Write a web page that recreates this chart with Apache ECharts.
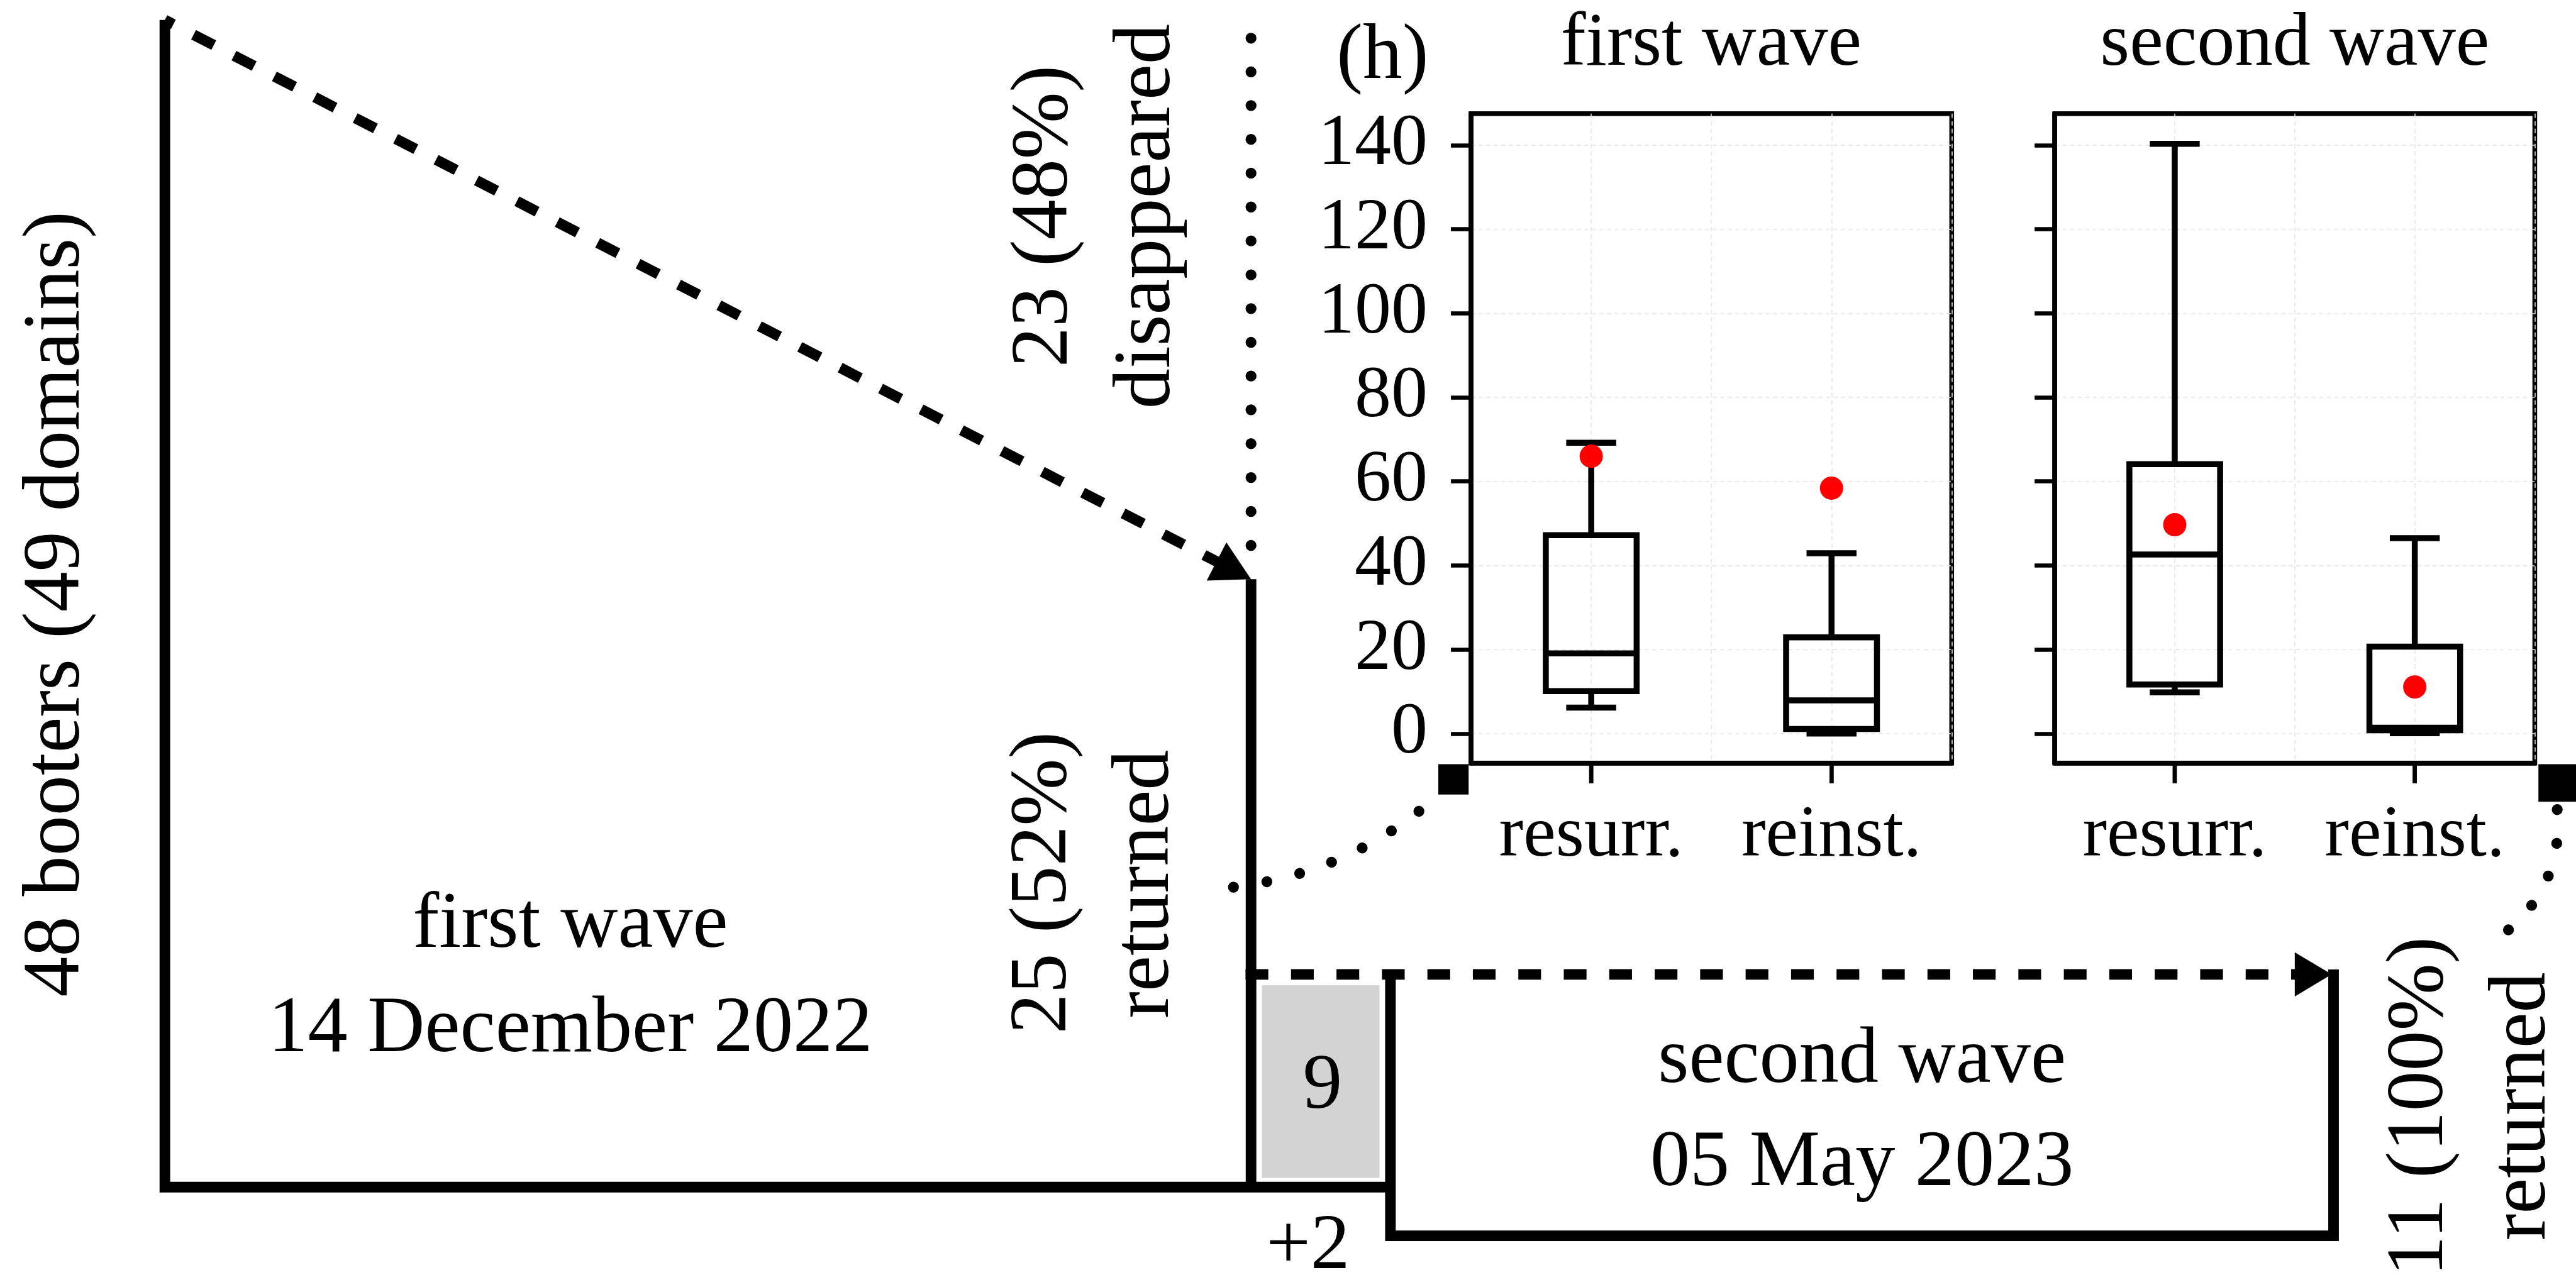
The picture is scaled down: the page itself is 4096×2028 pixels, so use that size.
<!DOCTYPE html>
<html><head><meta charset="utf-8">
<script src="https://cdn.jsdelivr.net/npm/echarts@6/dist/echarts.min.js"></script>
<style>html,body{margin:0;padding:0;background:#fff}#c{width:4096px;height:2028px}</style>
</head><body><div id="c"></div>
<script>
// ---------- data ----------
const boxCategories = ['resurr.', 'reinst.'];
const yTickValues = [0, 20, 40, 60, 80, 100, 120, 140];
// [min, Q1, median, Q3, max] (hours)
const firstWaveResurr  = [6.2, 10.1, 19.1, 47.2, 69.2];
const firstWaveReinst  = [0.0, 1.1, 7.9, 22.9, 42.9];
const secondWaveResurr = [9.8, 11.7, 42.6, 64.1, 140.3];
const secondWaveReinst = [0.1, 0.8, 1.4, 20.7, 46.5];
const firstWaveMeans  = [66.0, 58.4];
const secondWaveMeans = [49.7, 11.1];
// flow counts
const totalBooters = 48;
const totalDomains = 49;
const disappearedFirst = 23;
const returnedFirst = 25;
const returnedBoth = 9;
const addedSecond = 2;
const returnedSecond = 11;

// ---------- layout (reference pixels, scaled) ----------
const S = 4096 / 4250;
const FF = "'Liberation Serif','Times New Roman',serif";
const MID = 0.30;
const Y_MIN = -7.03, Y_MAX = 147.5;
const UNIT = 40.125, BASE_Y = 1959;             // flow diagram: px per booter, y of count 0
const cy = px => (BASE_Y - px) / UNIT;          // reference px -> count axis
const X0 = 272, X1 = 2064, X2 = 2294, X3 = 3850;
const WAVE2_TOP = 8.75;
const BOX_HW = 0.189, CAP_HW = 0.104, LW_BOX = 9.5;
const FLOW_LW = 17.5 * S;

function pct(a, b) { return Math.round(a / b * 100) + '%'; }

function boxRender(params, api) {
  const x = api.value(0);
  const mn = api.value(1), q1 = api.value(2), md = api.value(3), q3 = api.value(4), mx = api.value(5);
  const P = (dx, v) => api.coord([x + dx, v]);
  const st = { stroke: '#000', lineWidth: LW_BOX, fill: 'none', lineJoin: 'miter' };
  const ln = (a, b) => ({ type: 'line', shape: { x1: a[0], y1: a[1], x2: b[0], y2: b[1] }, style: st });
  const a = P(-BOX_HW, q1), b = P(BOX_HW, q3);
  const t = P(0, Y_MIN);
  return { type: 'group', children: [
    ln(P(0, mn), P(0, q1)), ln(P(0, q3), P(0, mx)),
    ln(P(-CAP_HW, mn), P(CAP_HW, mn)), ln(P(-CAP_HW, mx), P(CAP_HW, mx)),
    { type: 'rect', shape: { x: a[0], y: b[1], width: b[0] - a[0], height: a[1] - b[1] }, style: st },
    ln(P(-BOX_HW, md), P(BOX_HW, md)),
    { type: 'rect', shape: { x: t[0] - 3.25, y: t[1] - 2, width: 6.5, height: 34 }, style: { fill: '#000' } }
  ] };
}

const ARROW_STYLE = [
  { head: [64, 71], dash: [37.5, 37.5], offset: 21.75 },
  { head: [61, 73], dash: [37.5, 37.5], offset: 0 }
];
function arrowRender(params, api) {
  const p1 = api.coord([api.value(0), api.value(1)]);
  const tip = api.coord([api.value(2), api.value(3)]);
  const cfg = ARROW_STYLE[params.dataIndex];
  const dx = tip[0] - p1[0], dy = tip[1] - p1[1], L = Math.hypot(dx, dy);
  const ux = dx / L, uy = dy / L, nx = -uy, ny = ux;
  const hl = cfg.head[0] * S, hw = cfg.head[1] * S / 2;
  const bx = tip[0] - ux * hl, by = tip[1] - uy * hl;
  return { type: 'group', children: [
    { type: 'line', shape: { x1: p1[0], y1: p1[1], x2: bx + ux * 2, y2: by + uy * 2 },
      style: { stroke: '#000', lineWidth: FLOW_LW, lineDash: cfg.dash.map(d => d * S), lineDashOffset: cfg.offset * S, lineCap: 'butt' } },
    { type: 'polygon', shape: { points: [[tip[0], tip[1]], [bx + nx * hw, by + ny * hw], [bx - nx * hw, by - ny * hw]] },
      style: { fill: '#000' } }
  ] };
}

function dotRender(params, api) {
  const a = api.coord([api.value(0), api.value(1)]);
  const c = api.coord([api.value(2), api.value(3)]);
  const b = api.coord([api.value(4), api.value(5)]);
  return { type: 'bezierCurve', shape: { x1: a[0], y1: a[1], cpx1: c[0], cpy1: c[1], x2: b[0], y2: b[1] },
    style: { stroke: '#000', fill: 'none', lineWidth: 18 * S, lineCap: 'round', lineDash: [0.01, 55.8 * S] } };
}

function grayRender(params, api) {
  const a = api.coord([api.value(0), api.value(3)]);
  const b = api.coord([api.value(1), api.value(2)]);
  return { type: 'rect', shape: { x: a[0], y: a[1], width: b[0] - a[0], height: b[1] - a[1] },
    style: { fill: '#d3d3d3' } };
}

function hText(t, cx, baseY, fs) {
  return { type: 'text', x: cx * S, y: (baseY - MID * fs) * S, z: 100,
    style: { text: t, font: (fs * S).toFixed(1) + 'px ' + FF, fill: '#000', align: 'center', verticalAlign: 'middle', textAlign: 'center', textVerticalAlign: 'middle' } };
}
function vText(t, baseX, cyy, fs) {
  return { type: 'text', x: (baseX - MID * fs) * S, y: cyy * S, rotation: Math.PI / 2, z: 100,
    style: { text: t, font: (fs * S).toFixed(1) + 'px ' + FF, fill: '#000', align: 'center', verticalAlign: 'middle', textAlign: 'center', textVerticalAlign: 'middle' } };
}

const panelTop = 187.5 * S, panelH = 1072 * S;
function panelGrid(left, width) {
  return { left: left * S, top: panelTop, width: width * S, height: panelH, show: true,
    borderColor: '#000', borderWidth: 7.5, backgroundColor: 'transparent', containLabel: false };
}
function panelX(idx) {
  return { type: 'value', gridIndex: idx, min: 0.5, max: 2.5, position: 'bottom',
    axisLine: { show: true, onZero: false, lineStyle: { color: '#000', width: 7.5 } },
    axisTick: { show: false },
    axisLabel: { show: true, customValues: [1, 2], formatter: v => boxCategories[Math.round(v) - 1],
      fontFamily: FF, fontSize: 116, color: '#000', margin: 59 },
    splitLine: { show: true, lineStyle: { color: '#e4e4e4', width: 1.5, type: [7, 5] } } };
}
function panelY(idx, labels) {
  return { type: 'value', gridIndex: idx, min: Y_MIN, max: Y_MAX, position: 'left',
    axisLine: { show: true, onZero: false, lineStyle: { color: '#000', width: 7.5 } },
    axisTick: { show: true, length: 32, lineStyle: { color: '#000', width: 6.5 }, customValues: yTickValues },
    axisLabel: { show: labels, customValues: yTickValues, fontFamily: FF, fontSize: 116, color: '#000', margin: 69 },
    splitLine: { show: true, lineStyle: { color: '#e4e4e4', width: 1.5, type: [7, 5] } } };
}

const texts = [
  hText('(h)', 2281, 134, 130),
  hText('first wave', 2823, 111.6, 125),
  hText('second wave', 3786, 111.6, 125),
  hText('first wave', 941, 1567, 131),
  hText('14 December 2022', 941, 1740, 131),
  hText('second wave', 3072, 1791, 131),
  hText('05 May 2023', 3072, 1961, 131),
  hText(String(returnedBoth), 2182, 1833, 130),
  hText('+' + addedSecond, 2158, 2098, 130),
  vText(totalBooters + ' booters (' + totalDomains + ' domains)', 135, 997, 133),
  vText(disappearedFirst + ' (' + pct(disappearedFirst, totalBooters) + ')', 1765, 357, 133),
  vText('disappeared', 1934, 357, 133),
  vText(returnedFirst + ' (' + pct(returnedFirst, totalBooters) + ')', 1763, 1457, 133),
  vText('returned', 1932, 1459, 133),
  vText(returnedSecond + ' (' + pct(returnedSecond, returnedBoth + addedSecond) + ')', 4034, 1826, 133),
  vText('returned', 4203, 1826, 133)
];

const option = {
  animation: false,
  backgroundColor: '#fff',
  grid: [panelGrid(2427, 793), panelGrid(3390, 792), { left: 0, top: 0, width: 4096, height: 2028 }],
  xAxis: [panelX(0), panelX(1), { type: 'value', gridIndex: 2, min: 0, max: 4250, show: false }],
  yAxis: [panelY(0, true), panelY(1, false), { type: 'value', gridIndex: 2, min: cy(2104), max: cy(0), show: false }],
  series: [
    { type: 'custom', xAxisIndex: 0, yAxisIndex: 0, renderItem: boxRender, z: 5, clip: false,
      data: [[1, ...firstWaveResurr], [2, ...firstWaveReinst]] },
    { type: 'scatter', xAxisIndex: 0, yAxisIndex: 0, symbol: 'circle', symbolSize: 37, z: 6,
      itemStyle: { color: '#ff0000', opacity: 1 }, data: firstWaveMeans.map((v, i) => [i + 1, v]) },
    { type: 'custom', xAxisIndex: 1, yAxisIndex: 1, renderItem: boxRender, z: 5, clip: false,
      data: [[1, ...secondWaveResurr], [2, ...secondWaveReinst]] },
    { type: 'scatter', xAxisIndex: 1, yAxisIndex: 1, symbol: 'circle', symbolSize: 37, z: 6,
      itemStyle: { color: '#ff0000', opacity: 1 }, data: secondWaveMeans.map((v, i) => [i + 1, v]) },
    // gray "returned in both" block
    { type: 'custom', xAxisIndex: 2, yAxisIndex: 2, renderItem: grayRender, z: 1,
      data: [[2082, 2276, cy(1944), cy(1626)]] },
    // solid flow lines
    { type: 'lines', coordinateSystem: 'cartesian2d', xAxisIndex: 2, yAxisIndex: 2, polyline: true, z: 3,
      lineStyle: { color: '#000', width: FLOW_LW, opacity: 1, cap: 'butt', join: 'miter' },
      data: [
        { coords: [[X0, totalBooters], [X0, 0], [X2, 0]] },
        { coords: [[X1, 0], [X1, returnedFirst]] },
        { coords: [[X2, WAVE2_TOP], [X2, -addedSecond], [X3, -addedSecond], [X3, WAVE2_TOP + 0.2]] }
      ] },
    // dashed arrows
    { type: 'custom', xAxisIndex: 2, yAxisIndex: 2, renderItem: arrowRender, z: 4,
      data: [[X0, totalBooters, X1, returnedFirst], [2055, WAVE2_TOP, X3 - 3, WAVE2_TOP]] },
    // dotted lines
    { type: 'custom', xAxisIndex: 2, yAxisIndex: 2, renderItem: dotRender, z: 4,
      data: [
        [X1, cy(63), X1, cy(480), X1, cy(905)],
        [2035, cy(1464), 2228, cy(1441), 2373, cy(1312)],
        [4219, cy(1336), 4232, cy(1482), 4095, cy(1566)]
      ] },
    // connector squares
    { type: 'scatter', xAxisIndex: 2, yAxisIndex: 2, symbol: 'rect', z: 4, itemStyle: { color: '#000', opacity: 1 },
      data: [{ value: [2398, cy(1286)], symbolSize: 50 * S }, { value: [4219, cy(1292)], symbolSize: 62 * S }] }
  ],
  graphic: texts
};
const chart = echarts.init(document.getElementById('c'), null, { renderer: 'canvas' });
chart.setOption(option);

// x-axis tick marks placed through each panel's own scale
const ticks = [];
[0, 1].forEach(g => {
  boxCategories.forEach((c, i) => {
    const p = chart.convertToPixel({ xAxisIndex: g, yAxisIndex: g }, [i + 1, Y_MIN]);
    if (p && isFinite(p[0]) && isFinite(p[1])) {
      ticks.push({ type: 'rect', x: p[0] - 3.25, y: p[1], z: 90,
        shape: { x: 0, y: 0, width: 6.5, height: 32 }, style: { fill: '#000' } });
    }
  });
});
chart.setOption({ graphic: texts.concat(ticks) });
</script></body></html>
